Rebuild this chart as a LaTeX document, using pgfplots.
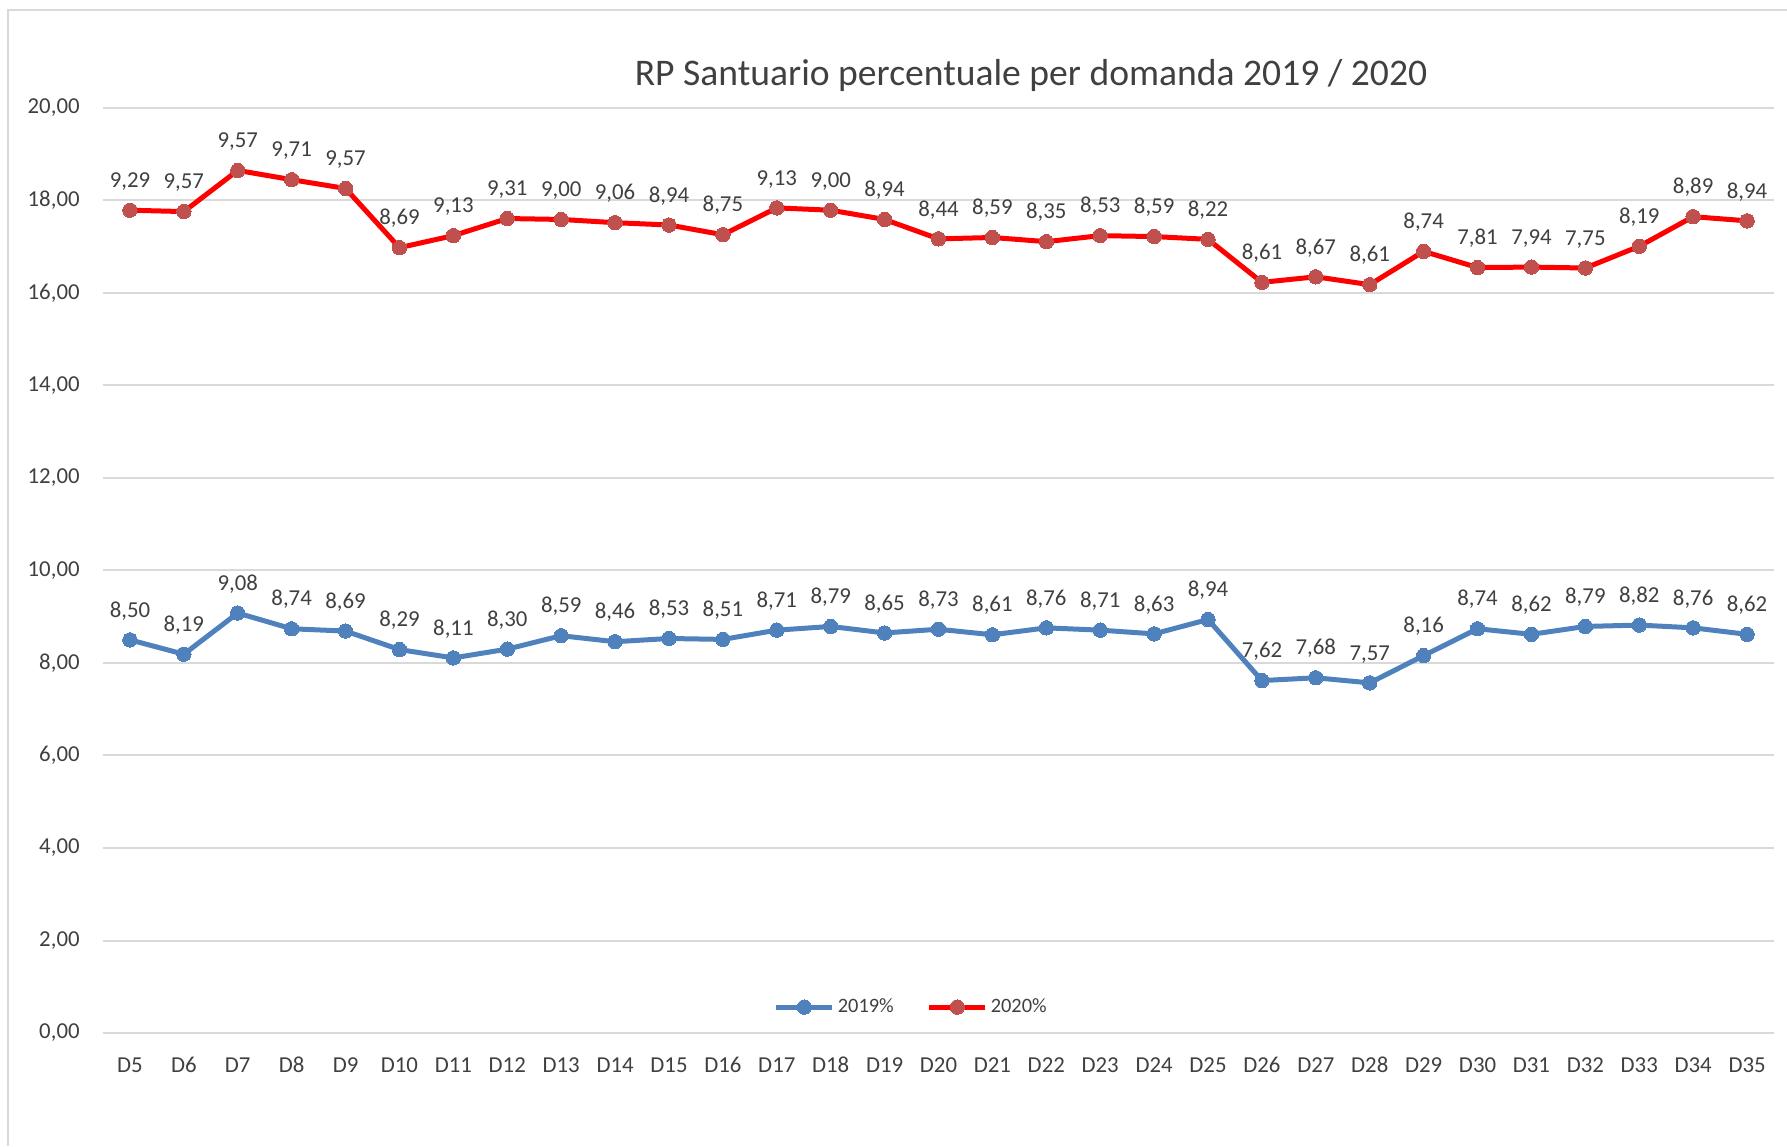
\documentclass[border=0pt]{standalone}
\usepackage{pgfplots}
\usepackage{pgfplotstable}
\pgfplotsset{compat=1.18}
\usepackage{fontspec}
\setmainfont{Carlito}
\definecolor{gridc}{HTML}{D9D9D9}
\definecolor{txt}{HTML}{404040}
\definecolor{blueL}{HTML}{4F81BD}
\definecolor{redL}{HTML}{FF0000}
\definecolor{redM}{HTML}{C0504D}

\pgfplotstableread{
x a b
0 8.50 9.29
1 8.19 9.57
2 9.08 9.57
3 8.74 9.71
4 8.69 9.57
5 8.29 8.69
6 8.11 9.13
7 8.30 9.31
8 8.59 9.00
9 8.46 9.06
10 8.53 8.94
11 8.51 8.75
12 8.71 9.13
13 8.79 9.00
14 8.65 8.94
15 8.73 8.44
16 8.61 8.59
17 8.76 8.35
18 8.71 8.53
19 8.63 8.59
20 8.94 8.22
21 7.62 8.61
22 7.68 8.67
23 7.57 8.61
24 8.16 8.74
25 8.74 7.81
26 8.62 7.94
27 8.79 7.75
28 8.82 8.19
29 8.76 8.89
30 8.62 8.94
}\datatable

\begin{document}
\begin{tikzpicture}
\useasboundingbox (0,0) rectangle (893.5pt,573pt);
\draw[gridc, line width=1pt] (3.75pt,0) -- (3.75pt,568pt) -- (893.5pt,568pt);
\node[anchor=base, text=txt, inner sep=0pt, font=\fontsize{18.8}{22}\selectfont] at (515.5pt,530pt) {RP Santuario percentuale per domanda 2019 / 2020};
\begin{axis}[
  at={(51.5pt,56.5pt)}, anchor=south west,
  scale only axis, width=835.5pt, height=462.5pt,
  xmin=-0.5, xmax=30.5, ymin=0, ymax=20,
  clip=false,
  stack plots=y,
  axis line style={draw=none},
  major tick length=0pt,
  ymajorgrids, grid style={gridc, line width=1pt},
  ytick={0,2,...,20},
  xtick={0,...,30},
  xticklabels={D5,D6,D7,D8,D9,D10,D11,D12,D13,D14,D15,D16,D17,D18,D19,D20,D21,D22,D23,D24,D25,D26,D27,D28,D29,D30,D31,D32,D33,D34,D35},
  /pgf/number format/assume math mode=true,
  yticklabel style={/pgf/number format/.cd, fixed, fixed zerofill, precision=2, use comma, /tikz/.cd, inner sep=0pt, xshift=-11.5pt, text=txt, font=\fontsize{11.4}{13}\selectfont},
  xticklabel style={inner sep=0pt, anchor=base, yshift=-19.6pt, text=txt, font=\fontsize{11.4}{13}\selectfont},
  point meta=explicit,
  nodes near coords={\pgfmathprintnumber[fixed, fixed zerofill, precision=2, use comma]{\pgfplotspointmeta}},
  nodes near coords style={anchor=base, yshift=11.4pt, inner sep=0pt, text=txt, font=\fontsize{11.4}{13}\selectfont},
  legend style={at={(0.484,0.028)}, anchor=center, draw=none, fill=none, legend columns=2,
    font=\fontsize{10.2}{12}\selectfont, text=txt,
    nodes={inner sep=1.5pt},
    /tikz/every even column/.append style={column sep=15pt}},
  legend image code/.code={\draw[mark repeat=2,mark phase=2,#1] plot coordinates {(0pt,0pt) (14pt,0pt) (28pt,0pt)};},
]
\addplot[blueL, line width=2.5pt, mark=*, mark size=3.6pt, mark options={fill=blueL, draw=blueL, line width=0pt}] table[x=x, y=a, meta=a] {\datatable};
\addlegendentry{2019\%}
\addplot[redL, line width=2.5pt, mark=*, mark size=3.6pt, mark options={fill=redM, draw=redM, line width=0pt}] table[x=x, y=b, meta=b] {\datatable};
\addlegendentry{2020\%}
\end{axis}
\end{tikzpicture}
\end{document}
